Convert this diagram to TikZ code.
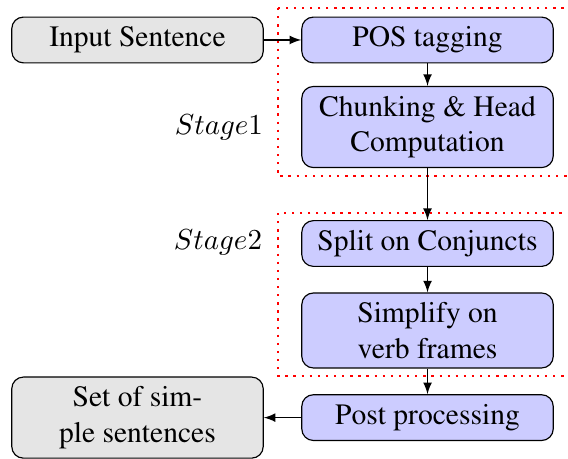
\documentclass[tikz,border=0pt]{standalone}
\usepackage[T1]{fontenc}
\renewcommand{\rmdefault}{ptm}
\usepackage{tikz}
\usepackage{mathtools}
\usepackage{amssymb}
\usepackage{xcolor}

\begin{document}
\begin{tikzpicture}[
	box/.style={draw, rounded corners=4pt, minimum width=3.05cm, align=center, font=\fontsize{10.2}{12.2}\selectfont},
	io/.style={box, fill=gray!20},
	proc/.style={box, fill=blue!20},
	stagebox/.style={draw=red, thick, dotted}
	]
	\useasboundingbox (0,0) rectangle (6.89,5.556);
	\clip (0,0) rectangle (6.89,5.556);
	
	\node[io] (input) at (1.668,5.071) {Input Sentence};
	\node[proc] (pos) at (5.186,5.071) {POS tagging};
	\node[proc] (chunk) at (5.186,4.015) {Chunking \& Head\\Computation};
	\node[proc] (split) at (5.186,2.602) {Split on Conjuncts};
	\node[proc] (simp) at (5.186,1.547) {Simplify on\\verb frames};
	\node[proc] (post) at (5.186,0.49) {Post processing};
	\node[io] (out) at (1.668,0.49) {Set of sim-\\ple sentences};
	
	\node (s1) at (2.656,4.015) {$Stage 1$};
	\node (s2) at (2.644,2.620) {$Stage 2$};
	
	\draw[stagebox] (3.372,5.459) rectangle (7.2,3.421);
	\draw[stagebox] (3.372,2.972) rectangle (7.2,0.995);
	
	\draw[-latex] (input) -- (pos);
	\draw[-latex] (pos) -- (chunk);
	\draw[-latex] (chunk) -- (split);
	\draw[-latex] (split) -- (simp);
	\draw[-latex] (simp) -- (post);
	\draw[-latex] (post) -- (out);
\end{tikzpicture}
\end{document}
